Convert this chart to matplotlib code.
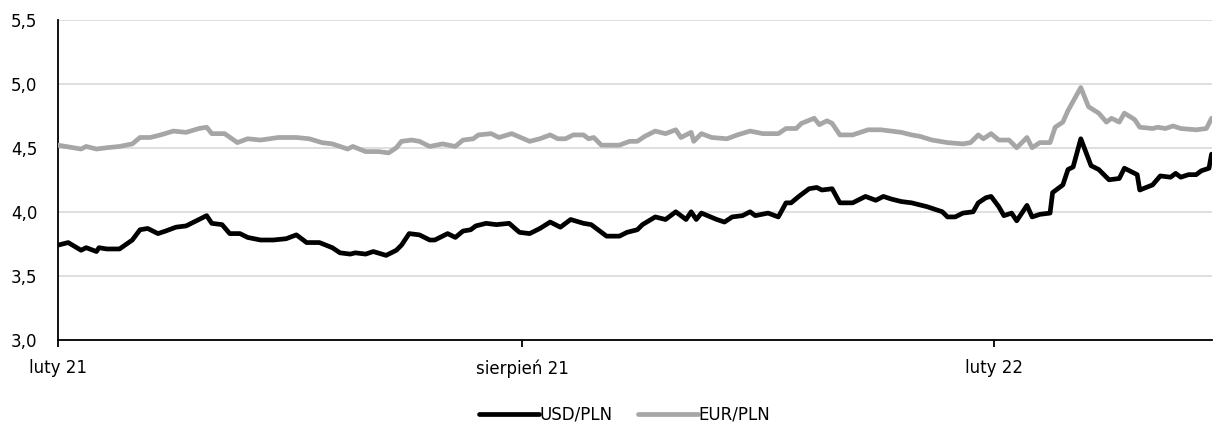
import matplotlib
matplotlib.use('Agg')
import matplotlib.pyplot as plt
import matplotlib.ticker as mticker
import pandas as pd

plt.rcParams['font.family'] = ['DejaVu Sans']

usd_dates = ['2021-02-01', '2021-02-05', '2021-02-10', '2021-02-12', '2021-02-16', '2021-02-17',
             '2021-02-20', '2021-02-25', '2021-03-02', '2021-03-05', '2021-03-08', '2021-03-12',
             '2021-03-15', '2021-03-19', '2021-03-23', '2021-03-26', '2021-03-31', '2021-04-02',
             '2021-04-06', '2021-04-09', '2021-04-13', '2021-04-16', '2021-04-21', '2021-04-26',
             '2021-05-01', '2021-05-05', '2021-05-09', '2021-05-14', '2021-05-19', '2021-05-22',
             '2021-05-26', '2021-05-28', '2021-06-01', '2021-06-04', '2021-06-09', '2021-06-13',
             '2021-06-15', '2021-06-18', '2021-06-22', '2021-06-26', '2021-06-28', '2021-07-03',
             '2021-07-06', '2021-07-09', '2021-07-12', '2021-07-14', '2021-07-18', '2021-07-22',
             '2021-07-27', '2021-07-31', '2021-08-04', '2021-08-08', '2021-08-12', '2021-08-16',
             '2021-08-20', '2021-08-25', '2021-08-28', '2021-09-03', '2021-09-08', '2021-09-11',
             '2021-09-15', '2021-09-17', '2021-09-22', '2021-09-26', '2021-09-30', '2021-10-04',
             '2021-10-06', '2021-10-08', '2021-10-10', '2021-10-16', '2021-10-19', '2021-10-22',
             '2021-10-26', '2021-10-29', '2021-10-31', '2021-11-05', '2021-11-09', '2021-11-12',
             '2021-11-14', '2021-11-17', '2021-11-21', '2021-11-24', '2021-11-26', '2021-11-30',
             '2021-12-03', '2021-12-08', '2021-12-13', '2021-12-17', '2021-12-20', '2021-12-23',
             '2021-12-27', '2021-12-31', '2022-01-06', '2022-01-12', '2022-01-14', '2022-01-17',
             '2022-01-20', '2022-01-24', '2022-01-26', '2022-01-29', '2022-01-31', '2022-02-03',
             '2022-02-05', '2022-02-08', '2022-02-10', '2022-02-14', '2022-02-16', '2022-02-19',
             '2022-02-23', '2022-02-24', '2022-02-28', '2022-03-02', '2022-03-04', '2022-03-07',
             '2022-03-11', '2022-03-14', '2022-03-18', '2022-03-22', '2022-03-24', '2022-03-29',
             '2022-03-30', '2022-04-04', '2022-04-07', '2022-04-11', '2022-04-13', '2022-04-15',
             '2022-04-18', '2022-04-21', '2022-04-23', '2022-04-26', '2022-04-27']
usd = [3.74, 3.76, 3.70, 3.72, 3.69, 3.72, 3.71, 3.71, 3.78, 3.86, 3.87, 3.83,
       3.85, 3.88, 3.89, 3.92, 3.97, 3.91, 3.90, 3.83, 3.83, 3.80, 3.78, 3.78,
       3.79, 3.82, 3.76, 3.76, 3.72, 3.68, 3.67, 3.68, 3.67, 3.69, 3.66, 3.70,
       3.74, 3.83, 3.82, 3.78, 3.78, 3.83, 3.80, 3.85, 3.86, 3.89, 3.91, 3.90,
       3.91, 3.84, 3.83, 3.87, 3.92, 3.88, 3.94, 3.91, 3.90, 3.81, 3.81, 3.84,
       3.86, 3.90, 3.96, 3.94, 4.00, 3.94, 4.00, 3.94, 3.99, 3.94, 3.92, 3.96,
       3.97, 4.00, 3.97, 3.99, 3.96, 4.07, 4.07, 4.12, 4.18, 4.19, 4.17, 4.18,
       4.07, 4.07, 4.12, 4.09, 4.12, 4.10, 4.08, 4.07, 4.04, 4.00, 3.96, 3.96,
       3.99, 4.00, 4.07, 4.11, 4.12, 4.04, 3.97, 3.99, 3.93, 4.05, 3.96, 3.98,
       3.99, 4.15, 4.21, 4.33, 4.35, 4.57, 4.36, 4.33, 4.25, 4.26, 4.34, 4.29,
       4.17, 4.21, 4.28, 4.27, 4.30, 4.27, 4.29, 4.29, 4.32, 4.34, 4.45]

eur_dates = ['2021-02-01', '2021-02-10', '2021-02-12', '2021-02-16', '2021-02-20', '2021-02-25',
             '2021-03-02', '2021-03-05', '2021-03-09', '2021-03-13', '2021-03-18', '2021-03-23',
             '2021-03-28', '2021-03-31', '2021-04-02', '2021-04-07', '2021-04-12', '2021-04-16',
             '2021-04-21', '2021-04-28', '2021-05-05', '2021-05-10', '2021-05-15', '2021-05-19',
             '2021-05-25', '2021-05-27', '2021-06-01', '2021-06-06', '2021-06-10', '2021-06-13',
             '2021-06-15', '2021-06-19', '2021-06-22', '2021-06-26', '2021-07-01', '2021-07-06',
             '2021-07-09', '2021-07-13', '2021-07-15', '2021-07-20', '2021-07-23', '2021-07-28',
             '2021-08-04', '2021-08-08', '2021-08-12', '2021-08-15', '2021-08-18', '2021-08-21',
             '2021-08-25', '2021-08-27', '2021-08-29', '2021-09-01', '2021-09-08', '2021-09-12',
             '2021-09-15', '2021-09-18', '2021-09-22', '2021-09-26', '2021-09-30', '2021-10-02',
             '2021-10-06', '2021-10-07', '2021-10-10', '2021-10-14', '2021-10-20', '2021-10-24',
             '2021-10-29', '2021-11-03', '2021-11-09', '2021-11-12', '2021-11-16', '2021-11-18',
             '2021-11-23', '2021-11-25', '2021-11-28', '2021-11-30', '2021-12-03', '2021-12-08',
             '2021-12-14', '2021-12-19', '2021-12-23', '2021-12-27', '2021-12-31', '2022-01-03',
             '2022-01-08', '2022-01-14', '2022-01-20', '2022-01-23', '2022-01-26', '2022-01-28',
             '2022-01-31', '2022-02-03', '2022-02-07', '2022-02-10', '2022-02-14', '2022-02-16',
             '2022-02-19', '2022-02-23', '2022-02-25', '2022-02-28', '2022-03-02', '2022-03-07',
             '2022-03-10', '2022-03-14', '2022-03-17', '2022-03-19', '2022-03-22', '2022-03-24',
             '2022-03-28', '2022-03-30', '2022-04-04', '2022-04-06', '2022-04-09', '2022-04-12',
             '2022-04-15', '2022-04-21', '2022-04-25', '2022-04-27']
eur = [4.52, 4.49, 4.51, 4.49, 4.50, 4.51, 4.53, 4.58, 4.58, 4.60, 4.63, 4.62,
       4.65, 4.66, 4.61, 4.61, 4.54, 4.57, 4.56, 4.58, 4.58, 4.57, 4.54, 4.53,
       4.49, 4.51, 4.47, 4.47, 4.46, 4.50, 4.55, 4.56, 4.55, 4.51, 4.53, 4.51,
       4.56, 4.57, 4.60, 4.61, 4.58, 4.61, 4.55, 4.57, 4.60, 4.57, 4.57, 4.60,
       4.60, 4.57, 4.58, 4.52, 4.52, 4.55, 4.55, 4.59, 4.63, 4.61, 4.64, 4.58,
       4.62, 4.55, 4.61, 4.58, 4.57, 4.60, 4.63, 4.61, 4.61, 4.65, 4.65, 4.69,
       4.73, 4.68, 4.71, 4.69, 4.60, 4.60, 4.64, 4.64, 4.63, 4.62, 4.60, 4.59,
       4.56, 4.54, 4.53, 4.54, 4.60, 4.57, 4.61, 4.56, 4.56, 4.50, 4.58, 4.50,
       4.54, 4.54, 4.66, 4.70, 4.79, 4.97, 4.82, 4.77, 4.70, 4.73, 4.70, 4.77,
       4.72, 4.66, 4.65, 4.66, 4.65, 4.67, 4.65, 4.64, 4.65, 4.73]

tick_dates = ['2021-02-01', '2021-08-01', '2022-02-01']
tick_labels = ['luty 21', 'sierpień 21', 'luty 22']
x_start, x_end = '2021-02-01', '2022-04-27'

fig = plt.figure(figsize=(12.13, 4.26), dpi=100)
ax = fig.add_axes([0.0478, 0.202, 0.951, 0.752])

ax.plot(pd.to_datetime(usd_dates), usd, color='black', lw=3.4, label='USD/PLN',
        solid_joinstyle='round', solid_capstyle='round', zorder=3)
ax.plot(pd.to_datetime(eur_dates), eur, color='#a6a6a6', lw=3.4, label='EUR/PLN',
        solid_joinstyle='round', solid_capstyle='round', zorder=3)

ax.set_xlim(pd.Timestamp(x_start), pd.Timestamp(x_end))
ax.set_ylim(3.0, 5.5)
ax.set_yticks([3.0, 3.5, 4.0, 4.5, 5.0, 5.5])
ax.yaxis.set_major_formatter(mticker.FuncFormatter(lambda v, p: ('%.1f' % v).replace('.', ',')))
ax.set_xticks(pd.to_datetime(tick_dates))
ax.set_xticklabels(tick_labels)

ax.grid(axis='y', color='#d9d9d9', lw=1.2, zorder=0)
ax.set_axisbelow(True)
for s in ['top', 'right']:
    ax.spines[s].set_visible(False)
ax.spines['left'].set_linewidth(1.3)
ax.spines['bottom'].set_linewidth(1.3)
ax.tick_params(axis='y', length=0, pad=15, labelsize=12)
ax.tick_params(axis='x', length=5, width=1.3, direction='out', pad=9, labelsize=12)

ax.legend(loc='center', bbox_to_anchor=(0.515, 0.026), bbox_transform=fig.transFigure,
          ncol=2, frameon=False, fontsize=12, handlelength=3.6, handletextpad=0.05,
          columnspacing=1.5)

fig.savefig('out.png', dpi=100)
